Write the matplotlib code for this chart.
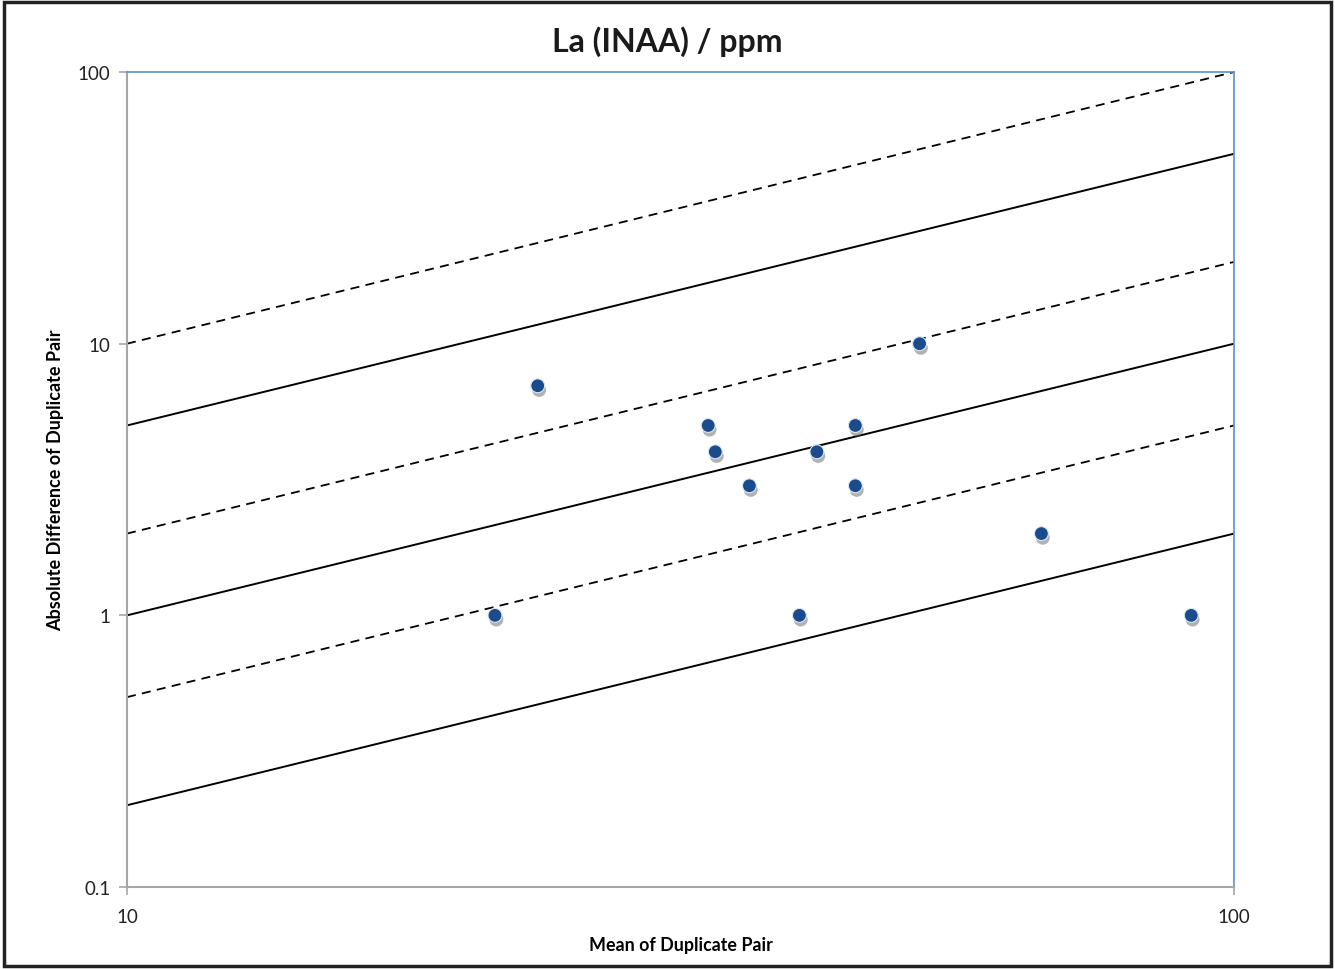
import matplotlib
matplotlib.use('Agg')
import matplotlib.pyplot as plt
import matplotlib.patheffects as pe
from matplotlib.ticker import FixedLocator, NullLocator, FixedFormatter
import numpy as np

plt.rcParams['font.family'] = ['Lato', 'DejaVu Sans']

# 重复样品对：均值 与 绝对差值
mean_pair = [21.5, 23.5, 33.5, 34.0, 36.5, 40.5, 42.0, 45.5, 45.5, 52.0, 67.0, 91.5]
abs_diff = [1, 7, 5, 4, 3, 1, 4, 5, 3, 10, 2, 1]

# 参考线：差值 = 系数 * 均值
solid_ratios = [0.5, 0.1, 0.02]
dashed_ratios = [1.0, 0.2, 0.05]
x_range = [10, 100]

y_ticks = [0.1, 1, 10, 100]
y_labels = ['0.1', '1', '10', '100']
x_ticks = [10, 100]
x_labels = ['10', '100']

fig = plt.figure(figsize=(13.35, 9.70), dpi=100)
ax = fig.add_axes([0.0951, 0.0845, 0.8292, 0.8402])

xs = np.array(x_range, dtype=float)
for r in solid_ratios:
    ax.plot(xs, r * xs, color='black', lw=1.4, solid_capstyle='butt')
for r in dashed_ratios:
    ax.plot(xs, r * xs, color='black', lw=1.3, linestyle=(0, (5, 3.5)))

ax.plot(mean_pair, abs_diff, 'o', ms=10, color='#1c4b8c', mec='#dbe6f3', mew=0.8,
        linestyle='none', zorder=5,
        path_effects=[pe.SimplePatchShadow(offset=(1, -3), shadow_rgbFace='#666666', alpha=0.5),
                      pe.Normal()])

ax.set_xscale('log')
ax.set_yscale('log')
ax.set_xlim(10, 100)
ax.set_ylim(0.1, 100)

ax.xaxis.set_major_locator(FixedLocator(x_ticks))
ax.xaxis.set_major_formatter(FixedFormatter(x_labels))
ax.yaxis.set_major_locator(FixedLocator(y_ticks))
ax.yaxis.set_major_formatter(FixedFormatter(y_labels))
ax.xaxis.set_minor_locator(NullLocator())
ax.yaxis.set_minor_locator(NullLocator())

ax.tick_params(axis='both', direction='out', length=6, width=1.2, color='#a6a6a6',
               labelsize=13.5, labelcolor='#222222', pad=6)
ax.tick_params(axis='x', pad=9)

for s in ['left', 'bottom']:
    ax.spines[s].set_color('#a6a6a6')
    ax.spines[s].set_linewidth(1.5)
for s in ['top', 'right']:
    ax.spines[s].set_color('#5b8fd0')
    ax.spines[s].set_linewidth(1.2)

fig.text(0.5, 0.957, 'La (INAA) / ppm', fontsize=23, fontweight='bold',
         ha='center', va='center', color='#1a1a1a')
ax.set_xlabel('Mean of Duplicate Pair', fontsize=12.9, fontweight='bold', labelpad=8)
ax.set_ylabel('Absolute Difference of Duplicate Pair', fontsize=13, fontweight='bold', labelpad=10)

# 外边框
fig.patches.append(plt.Rectangle((0.003, 0.003), 0.994, 0.994, transform=fig.transFigure,
                                 fill=False, edgecolor='#222222', lw=2.5))

fig.savefig('out.png', dpi=100)
